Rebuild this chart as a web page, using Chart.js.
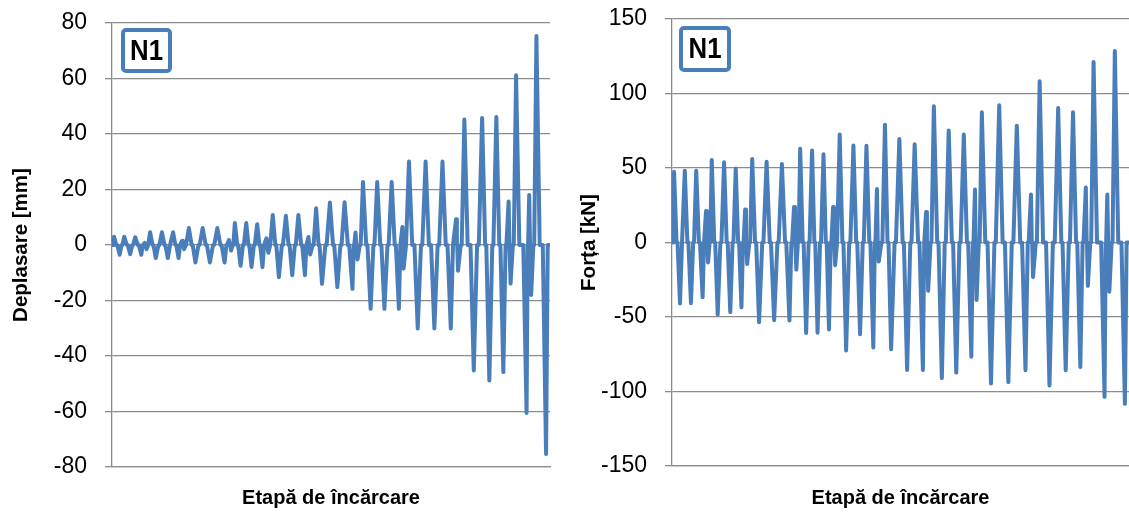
<!DOCTYPE html>
<html><head><meta charset="utf-8">
<script src="https://cdn.jsdelivr.net/npm/chart.js@4.4.1/dist/chart.umd.min.js"></script>
<style>
html,body{margin:0;padding:0;background:#fff;}
#wrap{position:relative;width:1129px;height:513px;overflow:hidden;background:#fff;}
canvas{position:absolute;top:0;}
#left{left:0;}
#right{left:560px;}
</style></head><body>
<div id="wrap">
<canvas id="left" width="560" height="513"></canvas>
<canvas id="right" width="569" height="513"></canvas>
</div>
<script>
// Load step (0..1000) of each positive and negative excursion peak, in time order
const stepUp   = [4.5, 28, 53, 74.5, 87, 114, 139.5, 160, 175.5, 207, 240.5, 267, 280.5, 306.5, 331.5, 352.5, 367, 397, 425.5, 448.5, 466, 497.5, 531, 556, 573, 605.5, 638.5, 663, 678, 716, 754.5, 785.5, 804.5, 845, 877.5, 905.5, 922.5, 952.5, 969];
const stepDown = [17.5, 41.5, 67, 79, 100, 127.5, 152, 164.5, 190.5, 223.5, 257, 272, 293.5, 318.5, 343.5, 357, 381, 411.5, 440.5, 452.5, 479.5, 514.5, 549, 560.5, 590.5, 622, 655, 666.5, 698, 736, 773.5, 790, 826, 861.5, 893.5, 910, 946.5, 957, 991];

// Displacement peaks [mm]
const dispUp   = [3.0, 3.0, 2.8, 0.8, 4.6, 4.6, 4.6, 1.5, 6.1, 6.1, 6.1, 1.8, 7.9, 7.9, 7.5, 2.4, 10.8, 10.5, 10.8, 2.9, 13.2, 15.3, 15.4, 4.5, 22.7, 22.7, 22.7, 6.5, 30.1, 30.1, 30.1, 9.3, 45.2, 45.8, 46.1, 15.7, 61.2, 18.0, 75.3];
const dispDown = [-3.5, -3.3, -3.5, -1.5, -4.7, -4.7, -4.7, -1.5, -6.3, -6.3, -6.3, -2.0, -7.5, -7.9, -8.0, -2.8, -11.6, -10.9, -10.9, -3.4, -14.0, -15.2, -15.8, -5.2, -23.0, -23.0, -23.0, -8.5, -30.1, -30.1, -30.1, -9.3, -45.2, -48.8, -45.8, -13.9, -60.5, -18.0, -75.3];

// Force peaks [kN]
const forceUp   = [47.5, 48.2, 48.2, 21.2, 55.3, 53.8, 49.6, 22.1, 56.0, 54.2, 52.7, 23.9, 62.9, 61.8, 59.2, 23.8, 72.4, 65.1, 64.9, 35.9, 79.1, 69.4, 65.9, 20.5, 91.4, 75.2, 72.4, 35.5, 87.4, 92.1, 78.4, 32.2, 108.2, 90.3, 87.4, 36.9, 121.1, 32.2, 128.5];
const forceDown = [-40.9, -40.7, -36.7, -13.4, -48.3, -46.7, -43.5, -14.5, -53.5, -52.2, -52.3, -18.2, -60.7, -60.6, -58.4, -15.2, -72.5, -61.6, -70.5, -12.8, -71.6, -85.6, -85.6, -32.4, -91.0, -87.3, -76.7, -38.6, -94.6, -93.7, -85.7, -23.2, -96.0, -85.7, -83.6, -29.1, -103.6, -33.0, -108.3];

const dispTicks  = [-80, -60, -40, -20, 0, 20, 40, 60, 80];
const forceTicks = [-150, -100, -50, 0, 50, 100, 150];
const panelLabel = 'N1';
const xTitle = 'Etapă de încărcare';

const BLUE = '#4A7EBB';
const GRID = '#8c8c8c';
const HALF = 7.5;    // max half-width of an excursion (load steps)
const LAST_STEP = 1000;

function buildSeries(up, down) {
  const ext = [];
  for (let i = 0; i < up.length; i++) {
    ext.push([stepUp[i], up[i]]);
    ext.push([stepDown[i], down[i]]);
  }
  const pts = [{x: 0, y: 0}];
  for (let i = 0; i < ext.length; i++) {
    const s = ext[i][0], v = ext[i][1];
    const prev = i > 0 ? ext[i - 1][0] : 0;
    const next = i < ext.length - 1 ? ext[i + 1][0] : LAST_STEP;
    const hl = Math.min(HALF, (s - prev) * 0.42);
    const hr = Math.min(HALF, (next - s) * 0.42);
    pts.push({x: s - hl, y: 0}, {x: s, y: v}, {x: s + hr, y: 0});
  }
  pts.push({x: LAST_STEP, y: 0});
  return pts;
}

const boxPlugin = {
  id: 'nbox',
  afterDraw(chart, args, o) {
    const {ctx, chartArea} = chart;
    const x = chartArea.left + o.dx, y = chartArea.top + o.dy, w = o.w, h = o.h;
    ctx.save();
    ctx.lineWidth = 4;
    ctx.strokeStyle = BLUE;
    ctx.fillStyle = '#fff';
    ctx.beginPath();
    ctx.roundRect(x, y, w, h, 3);
    ctx.fill();
    ctx.stroke();
    ctx.fillStyle = '#000';
    ctx.font = 'bold 30px "Liberation Sans", Arial, sans-serif';
    ctx.textAlign = 'center';
    ctx.textBaseline = 'middle';
    ctx.translate(x + w / 2, y + h / 2 + 1);
    ctx.scale(0.86, 1);
    ctx.fillText(panelLabel, 0, 0);
    ctx.restore();
  }
};

function makeChart(id, data, ticks, yTitle, opt) {
  return new Chart(document.getElementById(id), {
    type: 'line',
    data: {datasets: [{
      data: data,
      borderColor: BLUE,
      borderWidth: 4,
      pointRadius: 0,
      tension: 0,
      fill: false,
      borderJoinStyle: 'round'
    }]},
    plugins: [boxPlugin],
    options: {
      responsive: false,
      animation: false,
      events: [],
      layout: {padding: {top: opt.top, right: opt.right, left: 0, bottom: 0}},
      plugins: {
        legend: {display: false},
        tooltip: {enabled: false},
        nbox: opt.box
      },
      scales: {
        x: {
          type: 'linear', min: 0, max: LAST_STEP,
          ticks: {display: false},
          grid: {display: false, drawTicks: false},
          border: {display: true, color: GRID, width: 1.3},
          title: {display: true, text: xTitle, color: '#000',
                  font: {family: '"Liberation Sans", Arial, sans-serif', size: 20, weight: 'bold'},
                  padding: {top: 0, bottom: 3}},
          afterFit(s) { s.height = opt.xh; s.paddingLeft = 0; s.paddingRight = 0; }
        },
        y: {
          type: 'linear', min: ticks[0], max: ticks[ticks.length - 1],
          afterBuildTicks(s) { s.ticks = ticks.map(v => ({value: v})); },
          ticks: {color: '#000', padding: 18,
                  font: {family: '"Liberation Sans", Arial, sans-serif', size: 23}},
          grid: {color: GRID, lineWidth: 1.3, tickLength: 7, drawTicks: true, tickColor: GRID},
          border: {display: true, color: GRID, width: 1.3},
          title: {display: true, text: yTitle, color: '#000',
                  font: {family: '"Liberation Sans", Arial, sans-serif', size: 20.5, weight: 'bold'},
                  padding: {top: opt.ytp, bottom: 0}},
          afterFit(s) { s.width = 112; s.paddingTop = 0; s.paddingBottom = 0; }
        }
      }
    }
  });
}

makeChart('left', buildSeries(dispUp, dispDown), dispTicks, 'Deplasare [mm]',
  {top: 23, right: 10, xh: 46, ytp: 9, box: {dx: 11, dy: 7, w: 47, h: 41}});
makeChart('right', buildSeries(forceUp, forceDown), forceTicks, 'Forța [kN]',
  {top: 19, right: 0, xh: 47, ytp: 17, box: {dx: 9, dy: 9, w: 48, h: 42}});
</script>
</body></html>
